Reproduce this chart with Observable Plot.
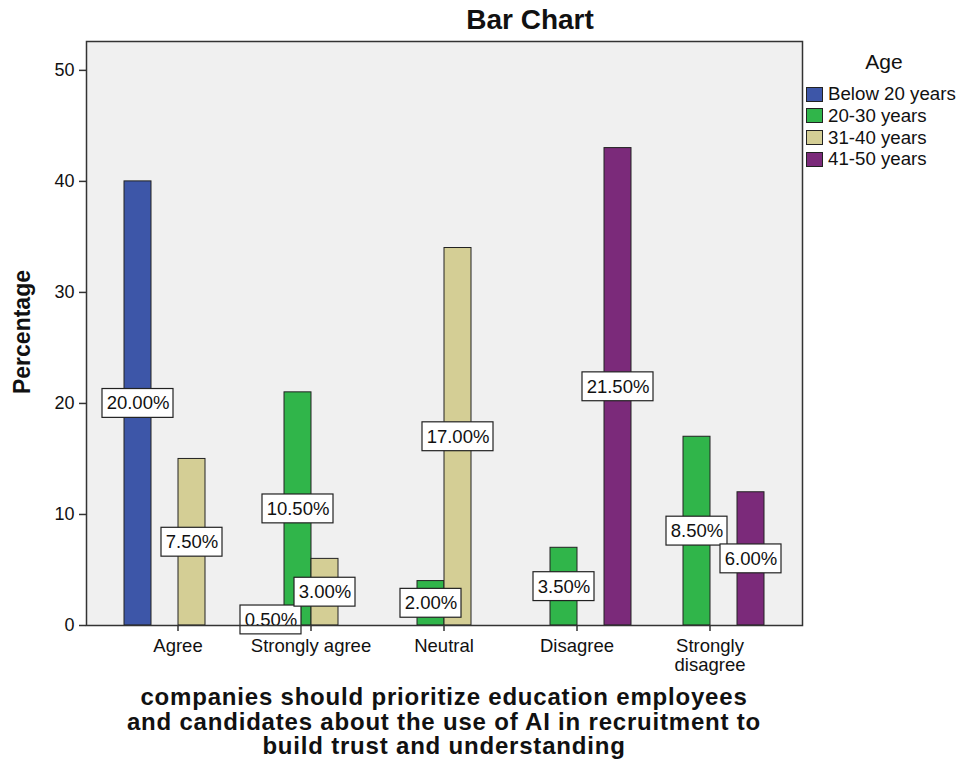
<!DOCTYPE html>
<html><head><meta charset="utf-8">
<script src="https://cdn.jsdelivr.net/npm/d3@7"></script>
<script src="https://cdn.jsdelivr.net/npm/@observablehq/plot@0.6"></script>
<style>
body{margin:0;background:#fff;font-family:"Liberation Sans",Arial,sans-serif;color:#111;}
#wrap{position:relative;width:964px;height:763px;overflow:hidden;}
.layer{position:absolute;left:0;top:0;}
#top{pointer-events:none;}
#title{position:absolute;left:530px;top:4px;transform:translateX(-50%);font-weight:bold;font-size:28px;line-height:32px;white-space:nowrap;}
#ylabel{position:absolute;left:22px;top:332px;transform:translate(-50%,-50%) rotate(-90deg);font-weight:bold;font-size:23px;white-space:nowrap;}
#xlabel{position:absolute;left:444px;top:685px;transform:translateX(-50%);font-weight:bold;font-size:24px;letter-spacing:0.8px;line-height:24.5px;text-align:center;white-space:nowrap;}
#legend{position:absolute;left:806px;top:50px;width:158px;}
#legend .lt{position:absolute;left:78px;top:0;transform:translateX(-50%);font-size:21px;line-height:24px;white-space:nowrap;}
#legend .it{position:absolute;left:0;height:22px;display:flex;align-items:center;white-space:nowrap;font-size:18.7px;}
#legend .sw{width:15px;height:13px;border:1px solid #222;margin-right:5px;}
</style></head><body>
<div id="wrap">
  <div id="back" class="layer"></div>
  <div id="chart" class="layer"></div>
  <div id="top" class="layer"></div>
  <div id="title">Bar Chart</div>
  <div id="ylabel">Percentage</div>
  <div id="xlabel">companies should prioritize education employees<br>and candidates about the use of AI in recruitment to<br>build trust and understanding</div>
  <div id="legend"></div>
</div>
<script>
const categories = ["Agree", "Strongly agree", "Neutral", "Disagree", "Strongly disagree"];
const ageGroups = ["Below 20 years", "20-30 years", "31-40 years", "41-50 years"];
const ageColors = ["#3d56a8", "#30b54a", "#d4ce95", "#7b2a7a"];
// bar heights (Percentage axis), per category
const below20 = [40, 1, 0, 0, 0];
const age20to30 = [0, 21, 4, 7, 17];
const age31to40 = [15, 6, 34, 0, 0];
const age41to50 = [0, 0, 0, 43, 12];
// printed labels (percent of total), per category
const below20Labels = [20.00, 0.50, 0, 0, 0];
const age20to30Labels = [0, 10.50, 2.00, 3.50, 8.50];
const age31to40Labels = [7.50, 3.00, 17.00, 0, 0];
const age41to50Labels = [0, 0, 0, 21.50, 6.00];
const yTicks = [0, 10, 20, 30, 40, 50];
const yMax = 52.6;

const seriesValues = [below20, age20to30, age31to40, age41to50];
const seriesLabels = [below20Labels, age20to30Labels, age31to40Labels, age41to50Labels];

const rows = [];
categories.forEach((c, ci) => {
  ageGroups.forEach((a, ai) => {
    const v = seriesValues[ai][ci];
    if (v > 0) rows.push({category: c, age: a, value: v, label: seriesLabels[ai][ci].toFixed(2) + "%"});
  });
});
const wide = rows.filter(d => d.label.length >= 6);
const narrow = rows.filter(d => d.label.length < 6);
const boxHalf = 1.3;

const common = {
  width: 964,
  height: 763,
  marginTop: 41,
  marginBottom: 138,
  marginLeft: 86,
  marginRight: 162,
  style: {fontFamily: "'Liberation Sans', Arial, sans-serif", background: "transparent", color: "#111"}
};

// back layer: plot background and y axis (not faceted)
const back = Plot.plot({
  ...common,
  x: {axis: null},
  y: {domain: [0, yMax], label: null},
  marks: [
    Plot.frame({fill: "#f0f0f0", stroke: null}),
    Plot.axisY({ticks: yTicks, tickSize: 7, tickPadding: 5, fontSize: 18, label: null, stroke: "#333", strokeWidth: 1.5})
  ]
});
document.getElementById("back").appendChild(back);

// middle layer: grouped bars, faceted by category
const chart = Plot.plot({
  ...common,
  fx: {domain: categories, paddingInner: 0.163, paddingOuter: 0.262, label: null},
  x: {domain: ageGroups, padding: 0, axis: null},
  y: {domain: [0, yMax], axis: null},
  color: {domain: ageGroups, range: ageColors},
  marks: [
    Plot.barY(rows, {fx: "category", x: "age", y: "value", fill: "age", stroke: "#222", strokeWidth: 1}),
    Plot.barY(wide, {fx: "category", x: "age", y1: d => d.value / 2 - boxHalf, y2: d => d.value / 2 + boxHalf, fill: "white", stroke: "#222", strokeWidth: 1.2, insetLeft: -22, insetRight: -22}),
    Plot.barY(narrow, {fx: "category", x: "age", y1: d => d.value / 2 - boxHalf, y2: d => d.value / 2 + boxHalf, fill: "white", stroke: "#222", strokeWidth: 1.2, insetLeft: -17, insetRight: -17}),
    Plot.text(rows, {fx: "category", x: "age", y: d => d.value / 2, text: "label", fontSize: 18.5, fill: "#111"}),
    Plot.axisFx({anchor: "bottom", tickSize: 6, tickPadding: 7, fontSize: 18.5, lineHeight: 1.02, label: null, stroke: "#333", strokeWidth: 1.5,
      tickFormat: d => d === "Strongly disagree" ? "Strongly\ndisagree" : d})
  ]
});
document.getElementById("chart").appendChild(chart);

// top layer: plot frame border drawn over the labels
const topLayer = Plot.plot({
  ...common,
  x: {axis: null},
  y: {domain: [0, yMax], axis: null},
  marks: [Plot.frame({stroke: "#333", strokeWidth: 1.5, fill: "none"})]
});
document.getElementById("top").appendChild(topLayer);

const legend = document.getElementById("legend");
const lt = document.createElement("div");
lt.className = "lt"; lt.textContent = "Age";
legend.appendChild(lt);
ageGroups.forEach((a, i) => {
  const it = document.createElement("div");
  it.className = "it";
  it.style.top = (33 + i * 21.8) + "px";
  const sw = document.createElement("span");
  sw.className = "sw"; sw.style.background = ageColors[i];
  const tx = document.createElement("span");
  tx.textContent = a;
  it.appendChild(sw); it.appendChild(tx);
  legend.appendChild(it);
});
</script>
</body></html>
